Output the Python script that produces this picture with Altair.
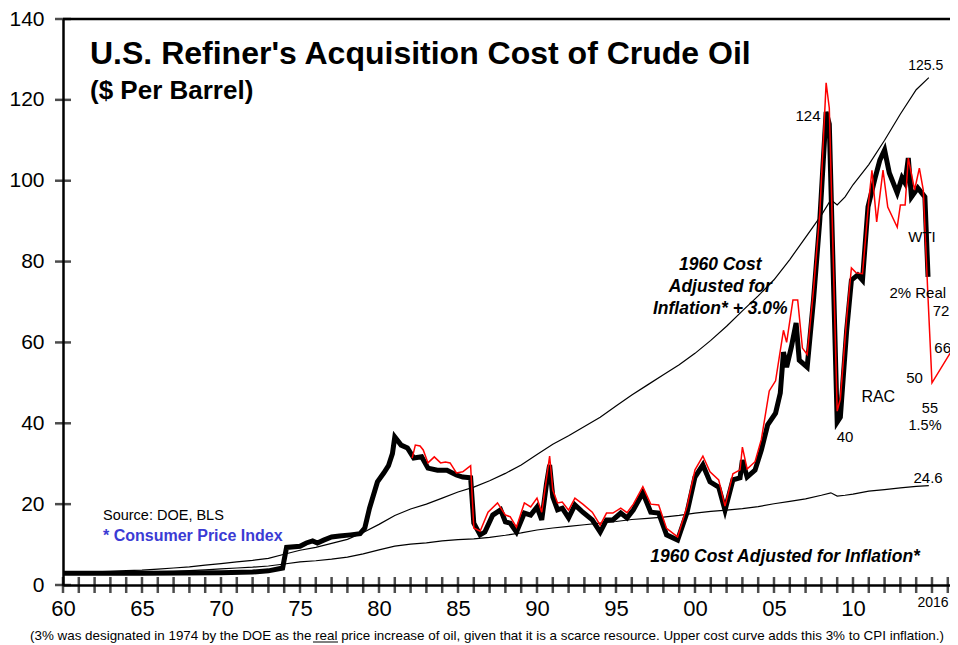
import altair as alt
import pandas as pd

FONT = "Liberation Sans"

# ---------------- data ----------------
curve_years = [1960, 1961, 1962, 1963, 1964, 1965, 1966, 1967, 1968, 1969,
               1970, 1971, 1972, 1973, 1974, 1975, 1976, 1977, 1978, 1979,
               1980, 1981, 1982, 1983, 1984, 1985, 1986, 1987, 1988, 1989,
               1990, 1991, 1992, 1993, 1994, 1995, 1996, 1997, 1998, 1999,
               2000, 2001, 2002, 2003, 2004, 2005, 2006, 2007, 2008, 2008.6,
               2009.0, 2009.5, 2010, 2011, 2012, 2013, 2014, 2014.8]
cpi_line = [3.0, 3.0, 3.05, 3.1, 3.15, 3.2, 3.3, 3.4, 3.55, 3.75,
            4.0, 4.2, 4.4, 4.7, 5.2, 5.7, 6.0, 6.4, 6.9, 7.7,
            8.7, 9.6, 10.1, 10.4, 10.9, 11.2, 11.4, 11.8, 12.3, 12.9,
            13.6, 14.1, 14.5, 14.9, 15.3, 15.7, 16.2, 16.5, 16.8, 17.2,
            17.8, 18.2, 18.5, 18.9, 19.4, 20.1, 20.7, 21.3, 22.2, 22.8,
            22.0, 22.2, 22.5, 23.2, 23.6, 24.0, 24.4, 24.6]
cpi_plus3_line = [3.0, 3.1, 3.25, 3.4, 3.55, 3.7, 3.95, 4.2, 4.5, 4.9,
                  5.3, 5.7, 6.1, 6.6, 7.6, 8.6, 9.3, 10.3, 11.3, 13.0,
                  15.0, 17.2, 18.8, 20.0, 21.5, 23.0, 24.2, 25.8, 27.6, 29.7,
                  32.3, 34.8, 36.9, 39.2, 41.5, 44.3, 47.0, 49.5, 52.0, 54.5,
                  57.3, 60.5, 64.0, 67.8, 71.5, 75.5, 80.5, 86.0, 91.5, 95.3,
                  94.0, 96.0, 99.0, 104.0, 110.0, 116.5, 122.5, 125.5]

rac_years = [1960.0, 1965.0, 1970.0, 1972.0, 1973.0, 1973.9, 1974.15, 1975.0, 1975.4, 1975.8,
             1976.1, 1976.5, 1977.0, 1977.5, 1978.2, 1978.8, 1979.1, 1979.4, 1979.9, 1980.3,
             1980.6, 1980.85, 1981.0, 1981.4, 1981.8, 1982.2, 1982.7, 1983.1, 1983.7, 1984.3,
             1984.9, 1985.3, 1985.8, 1986.0, 1986.4, 1986.7, 1987.2, 1987.7, 1988.0, 1988.3,
             1988.7, 1989.2, 1989.6, 1990.0, 1990.3, 1990.6, 1990.8, 1991.0, 1991.3, 1991.6,
             1992.0, 1992.4, 1992.9, 1993.5, 1994.0, 1994.4, 1994.8, 1995.3, 1995.7, 1996.1,
             1996.7, 1997.2, 1997.7, 1998.2, 1998.9, 1999.5, 2000.0, 2000.5, 2000.95, 2001.5,
             2001.9, 2002.4, 2002.85, 2003.0, 2003.3, 2003.8, 2004.2, 2004.6, 2005.1, 2005.4,
             2005.6, 2005.8, 2006.1, 2006.4, 2006.6, 2007.1, 2007.5, 2007.9, 2008.3, 2008.5,
             2009.0, 2009.2, 2009.6, 2009.9, 2010.3, 2010.6, 2010.95, 2011.4, 2011.7, 2012.0,
             2012.3, 2012.8, 2013.1, 2013.3, 2013.5, 2013.7, 2014.1, 2014.35, 2014.55, 2014.75]
rac_values = [2.9, 2.9, 3.0, 3.2, 3.5, 4.2, 9.3, 9.6, 10.4, 10.9,
              10.4, 11.1, 11.9, 12.1, 12.4, 12.7, 14.1, 19.0, 25.5, 27.7,
              29.5, 32.5, 36.6, 34.6, 33.9, 31.4, 31.7, 28.9, 28.4, 28.4,
              27.2, 26.7, 26.5, 15.3, 12.4, 13.1, 17.3, 18.6, 15.6, 15.3,
              13.1, 17.8, 17.3, 19.3, 16.1, 25.0, 29.7, 21.8, 18.6, 19.0,
              16.6, 19.8, 18.0, 16.1, 13.1, 16.1, 16.1, 17.8, 16.6, 18.6,
              22.8, 18.0, 17.8, 12.4, 11.1, 18.0, 26.7, 29.7, 25.5, 24.2,
              18.5, 26.0, 26.5, 30.9, 26.7, 28.4, 33.4, 39.6, 42.5, 47.5,
              57.6, 53.9, 58.9, 64.8, 55.6, 53.9, 70.5, 90.3, 117.0, 114.0,
              40.3, 41.5, 63.0, 75.4, 76.7, 75.4, 93.5, 100.7, 105.1, 107.6,
              101.9, 97.0, 100.7, 99.4, 105.6, 96.0, 98.2, 97.0, 96.0, 76.2]

wti_years = [1982.1, 1982.3, 1982.6, 1982.8, 1983.1, 1983.5, 1983.9, 1984.2, 1984.5, 1984.9,
             1985.3, 1985.6, 1985.8, 1986.0, 1986.4, 1986.9, 1987.5, 1988.0, 1988.3, 1988.7,
             1989.2, 1989.6, 1990.0, 1990.3, 1990.8, 1991.0, 1991.3, 1991.6, 1992.0, 1992.4,
             1992.9, 1993.5, 1994.0, 1994.4, 1994.8, 1995.3, 1995.7, 1996.1, 1996.7, 1997.2,
             1997.7, 1998.2, 1998.9, 1999.5, 2000.0, 2000.5, 2000.95, 2001.5, 2001.9, 2002.4,
             2002.85, 2003.0, 2003.3, 2003.8, 2004.2, 2004.7, 2005.1, 2005.6, 2005.8, 2006.2,
             2006.5, 2006.8, 2007.1, 2007.5, 2007.9, 2008.3, 2008.5, 2009.0, 2009.2, 2009.6,
             2009.9, 2010.2, 2010.6, 2011.0, 2011.2, 2011.5, 2011.9, 2012.2, 2012.8, 2013.0,
             2013.3, 2013.5, 2013.9, 2014.2, 2014.45, 2014.75, 2015.0, 2017.5]
wti_values = [31.4, 34.6, 34.4, 33.4, 30.2, 31.7, 30.2, 30.4, 30.2, 27.7,
              28.0, 28.9, 29.5, 14.1, 13.3, 18.0, 20.3, 17.3, 16.9, 14.3,
              20.3, 19.3, 21.5, 18.0, 31.9, 23.5, 20.3, 20.5, 18.5, 21.5,
              20.0, 18.0, 14.8, 17.8, 17.8, 19.0, 17.9, 20.0, 24.3, 20.0,
              19.8, 14.0, 11.9, 19.5, 28.5, 31.9, 28.0, 26.0, 19.5, 27.5,
              28.5, 34.1, 28.7, 30.5, 36.0, 48.0, 50.5, 63.0, 60.0, 70.5,
              70.5, 58.6, 57.0, 73.0, 92.0, 124.2, 118.0, 43.0, 46.0, 66.0,
              78.4, 77.2, 77.0, 95.0, 102.6, 89.8, 102.6, 93.5, 88.5, 94.0,
              94.0, 105.6, 97.7, 103.1, 97.7, 71.0, 50.0, 66.0]

x_label_years = [1960, 1965, 1970, 1975, 1980, 1985, 1990, 1995, 2000, 2005, 2010]
tick_years = list(range(1960, 2017))
y_ticks = [0, 20, 40, 60, 80, 100, 120, 140]

XMIN, XMAX = 1960, 2016.14
xs = alt.Scale(domain=[XMIN, XMAX], nice=False, zero=False)
ys = alt.Scale(domain=[0, 140], nice=False)

curves_df = pd.DataFrame({"year": curve_years, "cpi": cpi_line, "cpi3": cpi_plus3_line})
rac_df = pd.DataFrame({"year": rac_years, "v": rac_values})
wti_df = pd.DataFrame({"year": wti_years, "v": wti_values})
xt_df = pd.DataFrame({"year": tick_years, "zero": [0] * len(tick_years)})
yt_df = pd.DataFrame({"x0": [XMIN] * len(y_ticks), "val": y_ticks})
one = pd.DataFrame({"a": [0]})

x_axis = alt.Axis(values=x_label_years, format="d", labelExpr="substring(datum.label, 2, 4)",
                  ticks=False, grid=False, domainColor="black", domainWidth=2.5,
                  labelFontSize=22, labelPadding=13, labelColor="black", labelFont=FONT,
                  labelFlush=False, labelOverlap=False, title=None)
y_axis = alt.Axis(values=y_ticks, ticks=False, grid=False, domainColor="black", domainWidth=2.5,
                  labelFontSize=21, labelPadding=19, labelColor="black", labelFont=FONT,
                  labelFlush=False, labelOverlap=False, title=None)

X = lambda f: alt.X(f, scale=xs, title=None)
Y = lambda f: alt.Y(f, scale=ys, title=None)

lower = alt.Chart(curves_df).mark_line(color="black", strokeWidth=1.2).encode(
    x=alt.X("year:Q", scale=xs, axis=x_axis),
    y=alt.Y("cpi:Q", scale=ys, axis=y_axis),
)
upper = alt.Chart(curves_df).mark_line(color="black", strokeWidth=1.2).encode(
    x=X("year:Q"), y=Y("cpi3:Q"),
)
xticks = alt.Chart(xt_df).mark_tick(orient="vertical", size=16, thickness=2.5, color="black").encode(
    x=X("year:Q"), y=Y("zero:Q"),
)
yticks = alt.Chart(yt_df).mark_tick(orient="horizontal", size=16, thickness=2.5, color="black").encode(
    x=X("x0:Q"), y=Y("val:Q"),
)
top_rule = alt.Chart(pd.DataFrame({"t": [140]})).mark_rule(color="black", strokeWidth=2.5).encode(
    y=Y("t:Q"),
)
rac = alt.Chart(rac_df).mark_line(color="black", strokeWidth=5).encode(
    x=X("year:Q"), y=Y("v:Q"),
)
wti = alt.Chart(wti_df).mark_line(color="#ff0000", strokeWidth=1.5, clip=True).encode(
    x=X("year:Q"), y=Y("v:Q"),
)


def dtxt(s, x, y, size, weight="normal", style="normal", align="center", color="black", lh=None):
    kw = dict(text=s, fontSize=size, fontWeight=weight, fontStyle=style, align=align,
              baseline="middle", color=color, font=FONT)
    if lh:
        kw["lineHeight"] = lh
    return alt.Chart(one).mark_text(**kw).encode(x=alt.datum(x), y=alt.datum(y))


def ptxt(s, x, y, size, weight="normal", style="normal", align="left", baseline="alphabetic"):
    return alt.Chart(one).mark_text(text=s, fontSize=size, fontWeight=weight, fontStyle=style,
                                    align=align, baseline=baseline, color="black",
                                    font=FONT).encode(x=alt.value(x), y=alt.value(y))


texts = [
    ptxt("U.S. Refiner's Acquisition Cost of Crude Oil", 27, 45, 32, weight="bold"),
    ptxt("($ Per Barrel)", 27, 80, 26, weight="bold"),
    ptxt("(3% was designated in 1974 by the DOE as the real price increase of oil, given that it is "
         "a scarce resource.  Upper cost curve adds this 3% to CPI inflation.)", -33, 621, 13.4),
    dtxt("125.5", 2014.6, 128.4, 14),
    dtxt("124", 2007.15, 116.0, 15),
    dtxt("WTI", 2014.37, 86.1, 15),
    dtxt("2% Real", 2014.1, 72.2, 15),
    dtxt("72", 2015.05, 67.8, 15, align="left"),
    dtxt("66", 2015.15, 58.6, 15, align="left"),
    dtxt("50", 2013.9, 51.2, 15),
    dtxt("RAC", 2011.6, 46.5, 16),
    dtxt("55", 2014.87, 43.5, 14.5),
    dtxt("1.5%", 2014.56, 39.4, 14.5),
    dtxt("40", 2009.5, 36.6, 15),
    dtxt("24.6", 2014.75, 26.5, 15),
    dtxt(["1960 Cost", "Adjusted for", "Inflation* + 3.0%"], 2001.6, 79.1, 17.5,
         weight="bold", style="italic", lh=22),
    dtxt("1960 Cost Adjusted for Inflation*", 2005.7, 7.0, 17.5, weight="bold", style="italic"),
    dtxt("Source: DOE, BLS", 1962.53, 17.1, 14.5, align="left"),
    dtxt("* Consumer Price Index", 1962.53, 12.1, 16, weight="bold", align="left", color="#3b3bd4"),
    dtxt("2016", 2016.05, -4.4, 14, align="right"),
]

underline = alt.Chart(one).mark_rule(color="black", strokeWidth=1).encode(
    x=alt.value(250), x2=alt.value(275), y=alt.value(623)
)

chart = alt.layer(lower, upper, xticks, yticks, top_rule, rac, wti, *texts, underline).properties(
    width=887, height=566,
    padding={"left": 55, "top": 11, "right": 0, "bottom": 60},
    autosize=alt.AutoSizeParams(type="none"),
    background="white",
).configure_view(stroke=None)

chart.save("out.html", embed_options={"renderer": "svg", "actions": False})
